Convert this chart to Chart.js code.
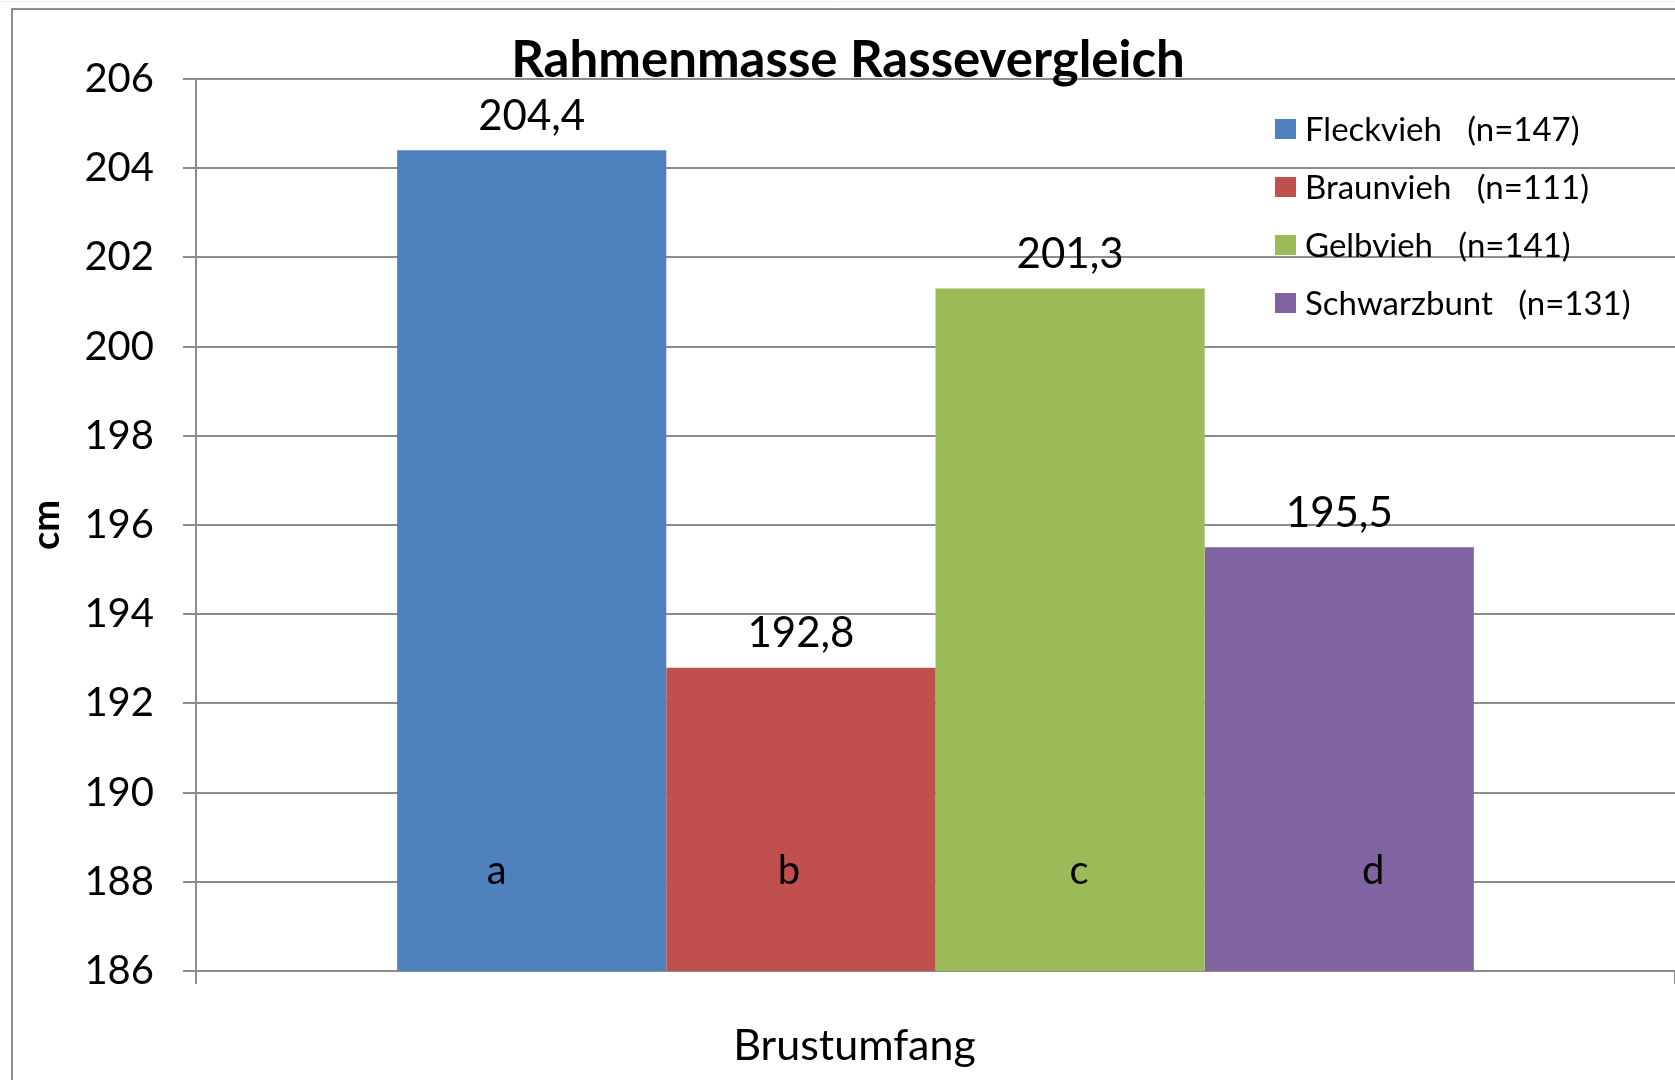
<!DOCTYPE html>
<html>
<head>
<meta charset="utf-8">
<script src="https://cdn.jsdelivr.net/npm/chart.js@4.4.1/dist/chart.umd.min.js"></script>
<style>
  body { margin: 0; background: #fff; }
  canvas { display: block; }
</style>
</head>
<body>
<canvas id="Rahmen" width="1675" height="1080"></canvas>
<script>
const categories = ['Brustumfang']
const breeds = ['Fleckvieh', 'Braunvieh', 'Gelbvieh', 'Schwarzbunt']
const counts = [147, 111, 141, 131]
const values = [204.4, 192.8, 201.3, 195.5]
const letters = ['a', 'b', 'c', 'd']
const colors = ['#4F81BD', '#C0504D', '#9BBB59', '#8064A2']
const yMin = 186
const yMax = 206
const yStep = 2

const fontFam = 'Lato, "Open Sans", sans-serif'
const gridColor = '#8c8c8c'

function fmt(v) {
    return v.toFixed(1).replace('.', ',')
}

let datasets = []
for (let i = 0; i < breeds.length; i++) {
    datasets.push({
        label: breeds[i] + '   (n=' + counts[i] + ')',
        data: [values[i]],
        backgroundColor: colors[i],
        borderWidth: 0
    })
}

// frame, title, value labels, letters and legend
const extras = {
    id: 'extras',
    beforeDraw(chart) {
        const ctx = chart.ctx
        ctx.save()
        ctx.fillStyle = '#fff'
        ctx.fillRect(0, 0, chart.width, chart.height)
        ctx.strokeStyle = '#ececec'
        ctx.lineWidth = 1
        ctx.beginPath()
        ctx.moveTo(0, 1.5); ctx.lineTo(chart.width, 1.5)
        ctx.stroke()
        ctx.strokeStyle = '#8c8c8c'
        ctx.lineWidth = 2
        ctx.beginPath()
        ctx.moveTo(12, chart.height); ctx.lineTo(12, 9); ctx.lineTo(chart.width, 9)
        ctx.stroke()
        ctx.restore()
    },
    afterDatasetsDraw(chart) {
        const ctx = chart.ctx
        const letterShift = [-35, -12, 9, 34]
        ctx.save()
        ctx.fillStyle = '#000'
        ctx.textAlign = 'center'
        ctx.textBaseline = 'middle'
        chart.data.datasets.forEach(function (ds, i) {
            const bar = chart.getDatasetMeta(i).data[0]
            ctx.font = '42px ' + fontFam
            ctx.fillText(fmt(ds.data[0]), bar.x, bar.y - 34)
            ctx.font = '40px ' + fontFam
            ctx.fillText(letters[i], bar.x + letterShift[i], 871)
        })

        ctx.font = 'bold 51px ' + fontFam
        ctx.fillText('Rahmenmasse Rassevergleich', 848, 61)

        ctx.font = '33px ' + fontFam
        ctx.textAlign = 'left'
        chart.data.datasets.forEach(function (ds, i) {
            const y = 129 + i * 58
            ctx.fillStyle = ds.backgroundColor
            ctx.fillRect(1275, y - 10, 21, 20)
            ctx.fillStyle = '#000'
            ctx.fillText(ds.label, 1305, y + 1)
        })
        ctx.restore()
    }
}

const config = {
    type: 'bar',
    data: { labels: categories, datasets: datasets },
    options: {
        responsive: false,
        animation: false,
        layout: { padding: { top: 79, right: 0, left: 0, bottom: 0 } },
        plugins: {
            legend: { display: false },
            title: { display: false },
            tooltip: { enabled: false }
        },
        datasets: {
            bar: { categoryPercentage: 0.728, barPercentage: 1.0 }
        },
        scales: {
            x: {
                grid: { display: true, drawOnChartArea: false, color: gridColor, lineWidth: 2, tickLength: 13, offset: true },
                border: { display: false },
                ticks: {
                    color: '#000',
                    font: { family: fontFam, size: 43 },
                    padding: 36,
                    labelOffset: -81
                },
                afterFit(scale) { scale.height = 109 }
            },
            y: {
                min: yMin,
                max: yMax,
                ticks: {
                    stepSize: yStep,
                    color: '#000',
                    font: { family: fontFam, size: 40 },
                    padding: 29
                },
                grid: { color: gridColor, lineWidth: 2, tickLength: 13 },
                border: { display: true, color: gridColor, width: 2 },
                title: {
                    display: true,
                    text: 'cm',
                    color: '#000',
                    font: { family: fontFam, size: 38, weight: 'bold' },
                    padding: { top: 24, bottom: 0 }
                },
                afterFit(scale) { scale.width = 196 }
            }
        }
    },
    plugins: [extras]
}

const RahmenChart = new Chart(document.getElementById('Rahmen'), config)
</script>
</body>
</html>
